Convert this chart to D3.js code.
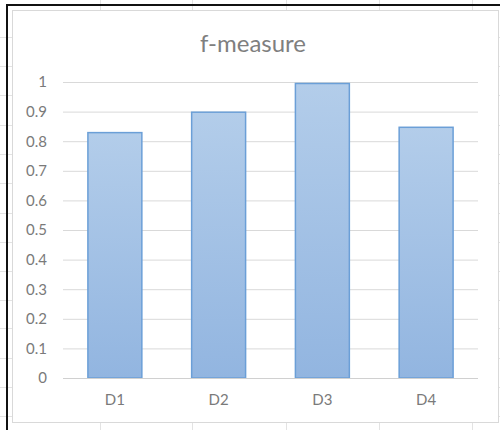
<!DOCTYPE html>
<html>
<head>
<meta charset="utf-8">
<script src="https://cdn.jsdelivr.net/npm/d3@7"></script>
<style>
  html, body { margin: 0; padding: 0; background: #fff; }
  svg { display: block; }
  text { font-family: Lato, "Open Sans", sans-serif; }
</style>
</head>
<body>
<svg id="chart" width="500" height="430"></svg>
<script>
// Data
const categories = ["D1", "D2", "D3", "D4"];
const fMeasure = [0.829, 0.898, 0.995, 0.847];
const yTicks = [0, 0.1, 0.2, 0.3, 0.4, 0.5, 0.6, 0.7, 0.8, 0.9, 1];
const yTickLabels = ["0", "0.1", "0.2", "0.3", "0.4", "0.5", "0.6", "0.7", "0.8", "0.9", "1"];
const titleText = "f-measure";

// Worksheet cell grid behind the chart object
const sheetCols = [100, 192, 286, 379, 472];
const sheetRows = [37, 66, 95, 125, 154, 183, 213, 242, 271, 300, 328, 358, 387, 416];

const W = 500, H = 430;
const svg = d3.select("#chart");

svg.append("rect").attr("width", W).attr("height", H).attr("fill", "#fff");

// sheet gridlines
const sheet = svg.append("g").attr("stroke", "#e3e3e3").attr("stroke-width", 1);
sheet.selectAll("line.c").data(sheetCols).join("line")
  .attr("x1", d => d + 0.5).attr("x2", d => d + 0.5)
  .attr("y1", 0).attr("y2", H);
sheet.selectAll("line.r").data(sheetRows).join("line")
  .attr("x1", 0).attr("x2", W)
  .attr("y1", d => d + 0.5).attr("y2", d => d + 0.5);

// window frame lines
svg.append("line").attr("x1", 6).attr("x2", W).attr("y1", 5).attr("y2", 5)
  .attr("stroke", "#111").attr("stroke-width", 2);
svg.append("line").attr("x1", 7).attr("x2", 7).attr("y1", 4).attr("y2", H)
  .attr("stroke", "#111").attr("stroke-width", 2);

// chart area
svg.append("rect")
  .attr("x", 12.5).attr("y", 10.5).attr("width", 486).attr("height", 412)
  .attr("fill", "#fff").attr("stroke", "#d9d9d9").attr("stroke-width", 1);

// scales
const x = d3.scaleBand().domain(categories).range([63, 478])
  .paddingInner(0.48).paddingOuter(0.24);
const y = d3.scaleLinear().domain([0, 1]).range([378, 82]);

// gradient fill for bars
const defs = svg.append("defs");
const grad = defs.append("linearGradient").attr("id", "barFill")
  .attr("x1", 0).attr("y1", 0).attr("x2", 0).attr("y2", 1);
grad.append("stop").attr("offset", "0%").attr("stop-color", "#b3cdea");
grad.append("stop").attr("offset", "100%").attr("stop-color", "#92b5e0");

// horizontal gridlines via axis
const yAxis = d3.axisLeft(y).tickValues(yTicks)
  .tickSize(-(478 - 63))
  .tickFormat((d, i) => yTickLabels[i])
  .tickPadding(16);
const gy = svg.append("g").attr("transform", "translate(63,0)").call(yAxis);
gy.select(".domain").remove();
gy.selectAll(".tick line").attr("stroke", "#d9d9d9").attr("stroke-width", 1);
gy.selectAll(".tick text")
  .attr("fill", "#7a7a7a").attr("font-size", 15)
  .attr("font-family", "Lato, 'Open Sans', sans-serif");

// bars
svg.append("g").selectAll("rect").data(categories).join("rect")
  .attr("x", d => x(d))
  .attr("y", (d, i) => y(fMeasure[i]))
  .attr("width", x.bandwidth())
  .attr("height", (d, i) => y(0) - y(fMeasure[i]))
  .attr("fill", "url(#barFill)")
  .attr("stroke", "#6b9fd7").attr("stroke-width", 1.5);

// baseline
svg.append("line").attr("x1", 63).attr("x2", 478)
  .attr("y1", y(0) + 0.5).attr("y2", y(0) + 0.5)
  .attr("stroke", "#d0d0d0").attr("stroke-width", 1);

// category axis
const xAxis = d3.axisBottom(x).tickSize(0).tickPadding(16);
const gx = svg.append("g").attr("transform", `translate(0,${y(0)})`).call(xAxis);
gx.select(".domain").remove();
gx.selectAll(".tick text")
  .attr("fill", "#7a7a7a").attr("font-size", 15)
  .attr("font-family", "Lato, 'Open Sans', sans-serif");

// title
svg.append("text")
  .attr("x", 253).attr("y", 52)
  .attr("text-anchor", "middle")
  .attr("fill", "#7f7f7f")
  .attr("font-size", 24)
  .text(titleText);
</script>
</body>
</html>
